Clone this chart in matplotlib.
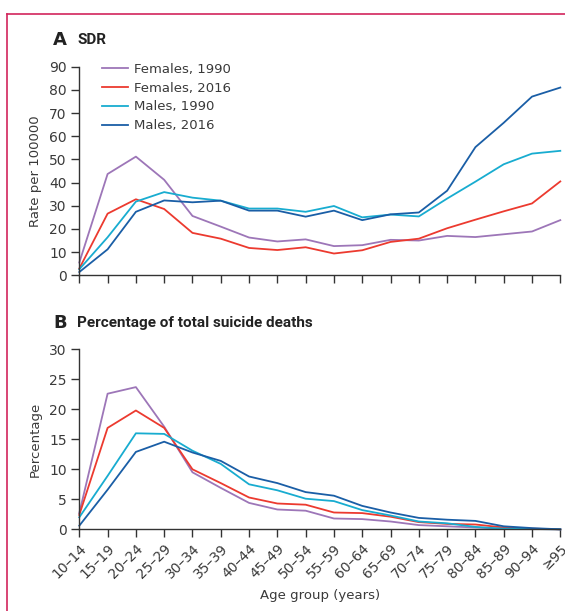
import matplotlib
matplotlib.use("Agg")
import matplotlib.pyplot as plt
from matplotlib.lines import Line2D

plt.rcParams['font.family'] = ['DejaVu Sans']

age_groups = ["10–14", "15–19", "20–24", "25–29", "30–34", "35–39", "40–44", "45–49",
              "50–54", "55–59", "60–64", "65–69", "70–74", "75–79", "80–84", "85–89",
              "90–94", "≥95"]

series_names = ["Females, 1990", "Females, 2016", "Males, 1990", "Males, 2016"]
series_colors = ["#9d76b8", "#ec3a2f", "#18acd0", "#1a5ea6"]

sdr_f1990 = [5.5, 43.7, 51.2, 41.2, 25.6, 21.0, 16.3, 14.6, 15.5, 12.6, 13.0, 15.3, 15.0, 17.0, 16.5, 17.7, 18.9, 23.8]
sdr_f2016 = [2.9, 26.6, 32.8, 28.6, 18.3, 15.8, 11.8, 10.9, 12.1, 9.4, 10.8, 14.4, 15.8, 20.3, 24.0, 27.6, 31.0, 40.5]
sdr_m1990 = [2.6, 16.4, 31.8, 35.9, 33.5, 32.2, 28.8, 28.8, 27.4, 29.9, 25.0, 26.2, 25.4, 33.1, 40.4, 47.9, 52.5, 53.7]
sdr_m2016 = [1.4, 11.2, 27.4, 32.3, 31.5, 32.2, 27.9, 27.9, 25.3, 27.9, 23.8, 26.3, 27.1, 36.5, 55.3, 65.8, 77.1, 81.0]

pct_f1990 = [2.7, 22.6, 23.7, 17.1, 9.5, 6.9, 4.4, 3.3, 3.1, 1.8, 1.7, 1.3, 0.7, 0.5, 0.3, 0.1, 0.05, 0.0]
pct_f2016 = [2.4, 16.9, 19.8, 16.9, 10.0, 7.7, 5.3, 4.3, 4.1, 2.8, 2.7, 2.1, 1.2, 0.9, 0.8, 0.3, 0.1, 0.0]
pct_m1990 = [2.0, 8.9, 16.0, 15.9, 13.1, 10.9, 7.5, 6.5, 5.1, 4.7, 3.2, 2.3, 1.3, 1.0, 0.4, 0.1, 0.05, 0.0]
pct_m2016 = [0.6, 6.6, 12.9, 14.6, 12.8, 11.4, 8.8, 7.7, 6.2, 5.6, 3.9, 2.8, 1.9, 1.6, 1.4, 0.5, 0.2, 0.0]

sdr_series = [sdr_f1990, sdr_f2016, sdr_m1990, sdr_m2016]
pct_series = [pct_f1990, pct_f2016, pct_m1990, pct_m2016]

W, H = 565, 611
fig = plt.figure(figsize=(W / 100, H / 100), dpi=100)

def ax_rect(left, right, top, bottom):
    return [left / W, 1 - bottom / H, (right - left) / W, (bottom - top) / H]

axA = fig.add_axes(ax_rect(79.3, 560.3, 66.7, 275.3))
axB = fig.add_axes(ax_rect(79.3, 560.3, 349.3, 529.3))

x = list(range(len(age_groups)))
axis_col = "#333333"
txt_col = "#3a3a3a"

for ax in (axA, axB):
    for s in ("top", "right"):
        ax.spines[s].set_visible(False)
    for s in ("left", "bottom"):
        ax.spines[s].set_color(axis_col)
        ax.spines[s].set_linewidth(1.0)
    ax.set_xlim(0, len(age_groups) - 1)
    ax.set_xticks(x)
    ax.tick_params(axis="both", direction="out", length=6, width=1.0, color=axis_col,
                   labelsize=10, labelcolor=txt_col, pad=3)

for vals, name, col in zip(sdr_series, series_names, series_colors):
    axA.plot(x, vals, color=col, lw=1.3, label=name, clip_on=False)
axA.set_ylim(0, 90)
axA.set_yticks(range(0, 91, 10))
axA.set_xticklabels([])
axA.set_ylabel("Rate per 100000", fontsize=9.5, color=txt_col, labelpad=5)
leg = axA.legend(loc="upper left", bbox_to_anchor=(0.036, 1.045), frameon=False,
                 fontsize=9.5, handlelength=2.0, handletextpad=0.4, labelspacing=0.45,
                 borderaxespad=0)
for t in leg.get_texts():
    t.set_color(txt_col)

for vals, name, col in zip(pct_series, series_names, series_colors):
    axB.plot(x, vals, color=col, lw=1.3, label=name, clip_on=False)
axB.set_ylim(0, 30)
axB.set_yticks(range(0, 31, 5))
axB.set_xticklabels(age_groups, rotation=45, ha="right", rotation_mode="anchor", fontsize=10)
axB.set_ylabel("Percentage", fontsize=9.5, color=txt_col, labelpad=5)
axB.set_xlabel("Age group (years)", fontsize=9.5, color=txt_col, labelpad=5)

title_font = ['Roboto', 'DejaVu Sans']
fig.text(53 / W, 1 - 40 / H, "A", fontsize=13, fontweight="bold", va="center", color="#222222")
fig.text(77 / W, 1 - 40 / H, "SDR", fontsize=11, fontweight="bold", va="center",
         color="#222222", family=title_font)
fig.text(53 / W, 1 - 323 / H, "B", fontsize=13, fontweight="bold", va="center", color="#222222")
fig.text(77 / W, 1 - 323 / H, "Percentage of total suicide deaths", fontsize=11,
         fontweight="bold", va="center", color="#222222", family=title_font)

frame_col = "#d2255c"
fig.add_artist(Line2D([7 / W, 1.0], [1 - 14 / H, 1 - 14 / H], color=frame_col, lw=1.2,
                      transform=fig.transFigure))
fig.add_artist(Line2D([7 / W, 7 / W], [1 - 14 / H, 0.0], color=frame_col, lw=1.2,
                      transform=fig.transFigure))

fig.savefig("out.png", dpi=100)
